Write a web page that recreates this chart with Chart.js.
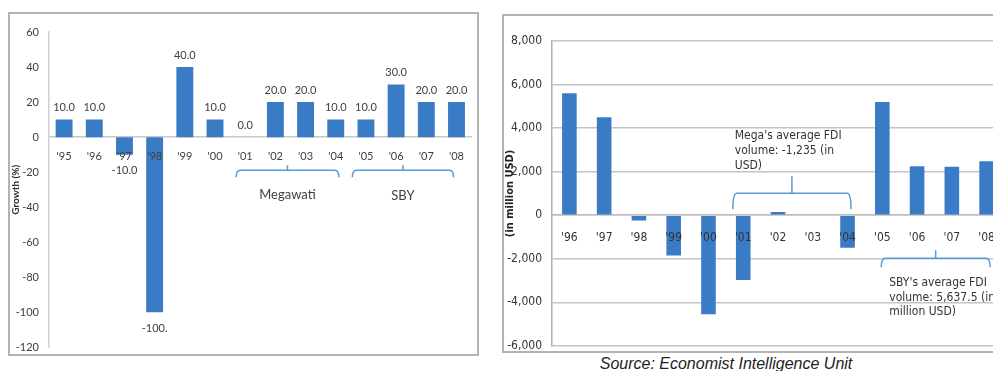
<!DOCTYPE html>
<html>
<head>
<meta charset="utf-8">
<script src="https://cdn.jsdelivr.net/npm/chart.js@4.4.1/dist/chart.umd.min.js"></script>
<style>
  html, body { margin: 0; padding: 0; background: #fff; overflow: hidden; width: 993px; height: 371px; }
  .box { position: absolute; border: 2px solid #b3b3b3; box-sizing: border-box; overflow: hidden; }
  .box canvas { display: block; }
  #leftBox { left: 8px; top: 12px; width: 471px; height: 344px; }
  #rightBox { left: 502px; top: 14px; width: 520px; height: 339px; }
  #source { position: absolute; left: 560px; width: 332px; top: 355px; text-align: center;
            font: italic 16px "Liberation Sans", Arial, sans-serif; color: #222; }
</style>
</head>
<body>
<div class="box" id="leftBox"><canvas id="growth-chart" width="467" height="350"></canvas></div>
<div class="box" id="rightBox"><canvas id="fdi-chart" width="516" height="347"></canvas></div>
<div id="source">Source: Economist Intelligence Unit</div>
<script>
// left chart: growth (%)
const growthYears = ["'95", "'96", "'97", "'98", "'99", "'00", "'01", "'02", "'03", "'04", "'05", "'06", "'07", "'08"];
const growthValues = [10, 10, -10, -100, 40, 10, 0, 20, 20, 10, 10, 30, 20, 20];
const growthTicks = [-120, -100, -80, -60, -40, -20, 0, 20, 40, 60];

// right chart: FDI (million USD)
const fdiYears = ["'96", "'97", "'98", "'99", "'00", "'01", "'02", "'03", "'04", "'05", "'06", "'07", "'08"];
const fdiValues = [5600, 4500, -250, -1850, -4550, -2980, 150, 0, -1500, 5200, 2250, 2220, 2480];
const fdiTicks = [-6000, -4000, -2000, 0, 2000, 4000, 6000, 8000];

const megaNote = ["Mega's average FDI", "volume: -1,235 (in", "USD)"];
const sbyNote = ["SBY's average FDI", "volume: 5,637.5 (in", "million USD)"];

const BAR = '#3a7bc6';
const BRACKET = '#5b9bd5';
const LEFT_FONT = 'Lato, "Noto Sans", sans-serif';
const RIGHT_FONT = '"Liberation Sans Narrow", "DejaVu Sans Condensed", "Liberation Sans", sans-serif';

// draws a curly-ish bracket; dir = 1 means ends point down, tick up
function bracket(ctx, x1, x2, y, endLen, tickLen, dir) {
  const xm = (x1 + x2) / 2;
  ctx.save();
  ctx.strokeStyle = BRACKET;
  ctx.lineWidth = 1.5;
  ctx.beginPath();
  ctx.moveTo(x1, y + dir * endLen);
  ctx.quadraticCurveTo(x1, y, x1 + 4, y);
  ctx.lineTo(x2 - 4, y);
  ctx.quadraticCurveTo(x2, y, x2, y + dir * endLen);
  ctx.moveTo(xm, y);
  ctx.lineTo(xm, y - dir * tickLen);
  ctx.stroke();
  ctx.restore();
}

const growthLabels = {
  id: 'growthLabels',
  afterDatasetsDraw(chart) {
    const ctx = chart.ctx;
    const meta = chart.getDatasetMeta(0);
    ctx.save();
    ctx.font = '11px ' + LEFT_FONT;
    ctx.fillStyle = '#404040';
    ctx.textAlign = 'center';
    ctx.textBaseline = 'middle';
    meta.data.forEach((bar, i) => {
      const v = growthValues[i];
      const txt = v.toFixed(1).slice(0, 5);
      ctx.fillText(txt, bar.x, v >= 0 ? bar.y - 12 : bar.y + 16);
    });
    ctx.restore();
  },
  afterDraw(chart) {
    const ctx = chart.ctx;
    const x = chart.scales.x, y = chart.scales.y;
    const zero = y.getPixelForValue(0);
    const step = x.getPixelForValue(1) - x.getPixelForValue(0);
    const m1 = x.getPixelForValue(6) - 0.3 * step, m2 = x.getPixelForValue(9) + 0.1 * step;
    const s1 = x.getPixelForValue(10) - 0.45 * step, s2 = x.getPixelForValue(13) - 0.1 * step;
    bracket(ctx, m1, m2, zero + 33, -7, -5, -1);
    bracket(ctx, s1, s2, zero + 33, -7, -5, -1);
    ctx.save();
    ctx.font = '13px ' + LEFT_FONT;
    ctx.fillStyle = '#404040';
    ctx.textAlign = 'center';
    ctx.textBaseline = 'middle';
    ctx.fillText('Megawati', (m1 + m2) / 2, zero + 58);
    ctx.fillText('SBY', (s1 + s2) / 2, zero + 59);
    ctx.restore();
  }
};

const fdiNotes = {
  id: 'fdiNotes',
  afterDraw(chart) {
    const ctx = chart.ctx;
    const x = chart.scales.x, y = chart.scales.y;
    const zero = y.getPixelForValue(0);
    const step = x.getPixelForValue(1) - x.getPixelForValue(0);
    const m1 = x.getPixelForValue(5) - 0.3 * step, m2 = x.getPixelForValue(8) + 0.1 * step;
    const s1 = x.getPixelForValue(9) - 0.03 * step, s2 = x.getPixelForValue(12) + 0.1 * step;
    bracket(ctx, m1, m2, zero - 22, 16, 17, 1);
    bracket(ctx, s1, s2, zero + 43, -9, -8, -1);
    ctx.save();
    ctx.font = '12px ' + RIGHT_FONT;
    ctx.fillStyle = '#333';
    ctx.textAlign = 'left';
    ctx.textBaseline = 'middle';
    megaNote.forEach((t, i) => ctx.fillText(t, m1 + 2, zero - 79 + i * 15));
    sbyNote.forEach((t, i) => ctx.fillText(t, s1 + 8, zero + 68 + i * 14.5));
    ctx.restore();
  }
};

new Chart(document.getElementById('growth-chart').getContext('2d'), {
  type: 'bar',
  data: {
    labels: growthYears,
    datasets: [{
      data: growthValues,
      backgroundColor: BAR,
      categoryPercentage: 1,
      barPercentage: 0.56
    }]
  },
  options: {
    responsive: false,
    animation: false,
    layout: { padding: { top: 18, bottom: 7, left: 0, right: 0 } },
    plugins: { legend: { display: false }, tooltip: { enabled: false } },
    scales: {
      x: {
        position: { y: 0 },
        grid: { display: false, drawTicks: false, tickLength: 0 },
        border: { color: '#c8c8c8', width: 1.5 },
        ticks: { z: 1, color: '#404040', font: { size: 11, family: LEFT_FONT }, padding: 13, maxRotation: 0 }
      },
      y: {
        min: growthTicks[0],
        max: growthTicks[growthTicks.length - 1],
        afterFit: (s) => { s.width = 39; },
        grid: { display: false, drawTicks: false, tickLength: 0 },
        border: { color: '#d0d0d0', width: 1.5 },
        ticks: { stepSize: growthTicks[1] - growthTicks[0], color: '#404040', font: { size: 11, family: LEFT_FONT }, padding: 10 },
        title: { display: true, text: 'Growth (%)', color: '#333', font: { size: 10, weight: 'bold', family: LEFT_FONT }, padding: { top: 0, bottom: 0 } }
      }
    }
  },
  plugins: [growthLabels]
});

new Chart(document.getElementById('fdi-chart').getContext('2d'), {
  type: 'bar',
  data: {
    labels: fdiYears,
    datasets: [{
      data: fdiValues,
      backgroundColor: BAR,
      categoryPercentage: 1,
      barPercentage: 0.42
    }]
  },
  options: {
    responsive: false,
    animation: false,
    layout: { padding: { top: 25, bottom: 7, left: 0, right: 16 } },
    plugins: { legend: { display: false }, tooltip: { enabled: false } },
    scales: {
      x: {
        position: { y: 0 },
        grid: { display: false, drawTicks: false, tickLength: 0 },
        border: { color: '#bdbdbd', width: 1.5 },
        ticks: { z: 1, color: '#333', font: { size: 12, family: RIGHT_FONT }, padding: 16, maxRotation: 0 }
      },
      y: {
        min: fdiTicks[0],
        max: fdiTicks[fdiTicks.length - 1],
        afterFit: (s) => { s.width = 48; },
        grid: { color: '#c4c4c4', lineWidth: 1.5, drawTicks: false, tickLength: 0 },
        border: { color: '#b0b0b0', width: 1.5 },
        ticks: { stepSize: fdiTicks[1] - fdiTicks[0], color: '#333', font: { size: 12, family: RIGHT_FONT }, padding: 10 },
        title: { display: true, text: '(in million USD)', color: '#222', font: { size: 11, weight: 'bold', family: RIGHT_FONT }, padding: { top: 0, bottom: 0 } }
      }
    }
  },
  plugins: [fdiNotes]
});
</script>
</body>
</html>
